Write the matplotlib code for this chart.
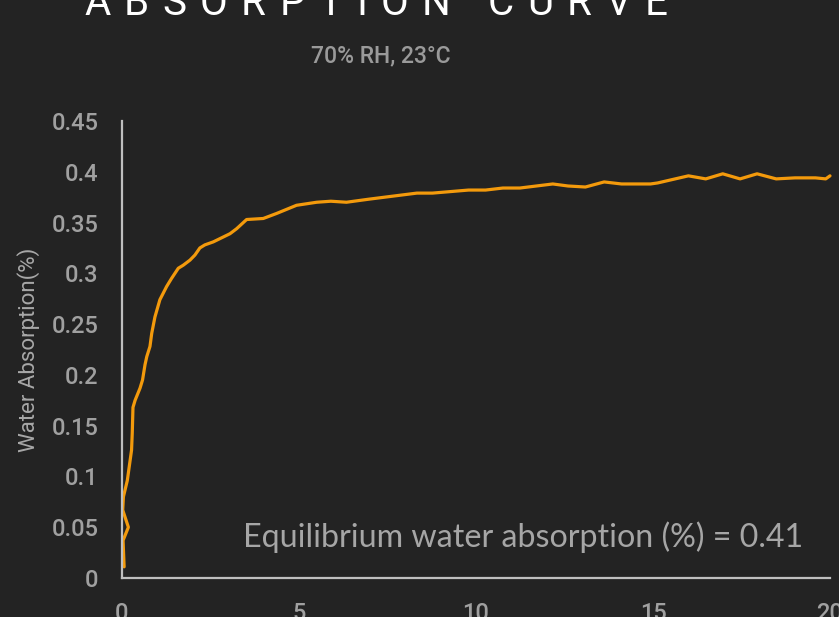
#!/usr/bin/env python3
# -*- coding: utf-8 -*-

"""Water absorption curve, dark theme."""

import matplotlib
matplotlib.use("Agg")
import matplotlib.pyplot as plt
from matplotlib.ticker import FuncFormatter

# curve (x axis unitless, y in %)
time_x = [
    0.06, 0.03, 0.18, 0.02, 0.04, 0.15, 0.23, 0.27, 0.29, 0.31, 0.37, 0.51,
    0.58, 0.65, 0.70, 0.79, 0.84, 0.93, 1.07, 1.26, 1.40, 1.59, 1.73, 1.92,
    2.06, 2.2, 2.34, 2.58, 3.05, 3.24, 3.52, 3.99, 4.37, 4.93, 5.5, 5.9,
    6.34, 6.97, 8.33, 8.77, 9.79, 10.27, 10.76, 11.24, 12.17, 12.6, 13.09,
    13.62, 14.11, 14.93, 15.13, 16.0, 16.49, 16.97, 17.46, 17.94, 18.48,
    19.01, 19.59, 19.88, 20.0,
]
absorption = [
    0.011, 0.037, 0.05, 0.067, 0.080, 0.096, 0.116, 0.126, 0.143, 0.168,
    0.175, 0.187, 0.195, 0.210, 0.218, 0.228, 0.241, 0.257, 0.274, 0.287,
    0.295, 0.305, 0.308, 0.313, 0.318, 0.325, 0.328, 0.331, 0.339, 0.344,
    0.353, 0.354, 0.359, 0.367, 0.370, 0.371, 0.370, 0.373, 0.379, 0.379,
    0.382, 0.382, 0.384, 0.384, 0.388, 0.386, 0.385, 0.390, 0.388, 0.388,
    0.389, 0.396, 0.393, 0.398, 0.393, 0.398, 0.393, 0.394, 0.394, 0.393,
    0.396,
]
x_ticks = [0, 5, 10, 15, 20]
y_ticks = [0, 0.05, 0.1, 0.15, 0.2, 0.25, 0.3, 0.35, 0.4, 0.45]

title = "ABSORPTION CURVE"
subtitle = "70% RH, 23°C"
y_label = "Water Absorption(%)"
note = "Equilibrium water absorption (%) = 0.41"

W, H = 839, 617
BG = "#232323"
LINE = "#f39a0c"
SPINE = "#bfbfbf"
TICK = "#a0a0a0"


def spaced_title(fig, text, x_px, base_px, tracking, **kw):
    """Draws text letter by letter with extra spacing (px)."""
    renderer = fig.canvas.get_renderer()
    x = x_px
    for ch in text:
        t = fig.text(x / W, 1 - base_px / H, ch, ha="left", va="baseline", **kw)
        if ch == " ":
            x += 0.25 * kw["fontsize"] * 100 / 72 + tracking
        else:
            x += t.get_window_extent(renderer).width + tracking


def main():
    fig = plt.figure(figsize=(W / 100, H / 100), dpi=100, facecolor=BG)
    ax = fig.add_axes([122 / W, 1 - 578 / H, 708 / W, 457 / H])
    ax.set_facecolor(BG)

    ax.plot(time_x, absorption, color=LINE, lw=2.3,
            solid_joinstyle="round", solid_capstyle="round", clip_on=False)

    ax.set_xlim(0, 20)
    ax.set_ylim(0, 0.45)
    ax.set_xticks(x_ticks)
    ax.set_yticks(y_ticks)
    ax.yaxis.set_major_formatter(FuncFormatter(lambda v, p: "%g" % v))
    ax.tick_params(length=0, colors=TICK, labelsize=17)
    ax.tick_params(axis="y", pad=17)
    ax.tick_params(axis="x", pad=17)
    for lbl in ax.get_xticklabels() + ax.get_yticklabels():
        lbl.set_fontfamily("Roboto")
        lbl.set_fontweight("medium")

    for side in ["top", "right"]:
        ax.spines[side].set_visible(False)
    for side in ["left", "bottom"]:
        ax.spines[side].set_color(SPINE)
        ax.spines[side].set_linewidth(1.6)

    ax.set_ylabel(y_label, color="#a8a8a8", fontsize=16, family="Roboto")
    ax.yaxis.set_label_coords(-0.116, 0.5)

    ax.text(19.24, 0.0305, note, ha="right", va="baseline",
            color="#a6a6a6", fontsize=23.2, family="Lato")

    spaced_title(fig, title, 84, 15, 13.5, color="white", fontsize=29,
                 family="Roboto")
    fig.text(381 / W, 1 - 62 / H, subtitle, ha="center", va="baseline",
             color="#9a9a9a", fontsize=16.5, family="Roboto", fontweight="medium")

    fig.savefig("out.png", dpi=100, facecolor=BG)


if __name__ == "__main__":
    main()
